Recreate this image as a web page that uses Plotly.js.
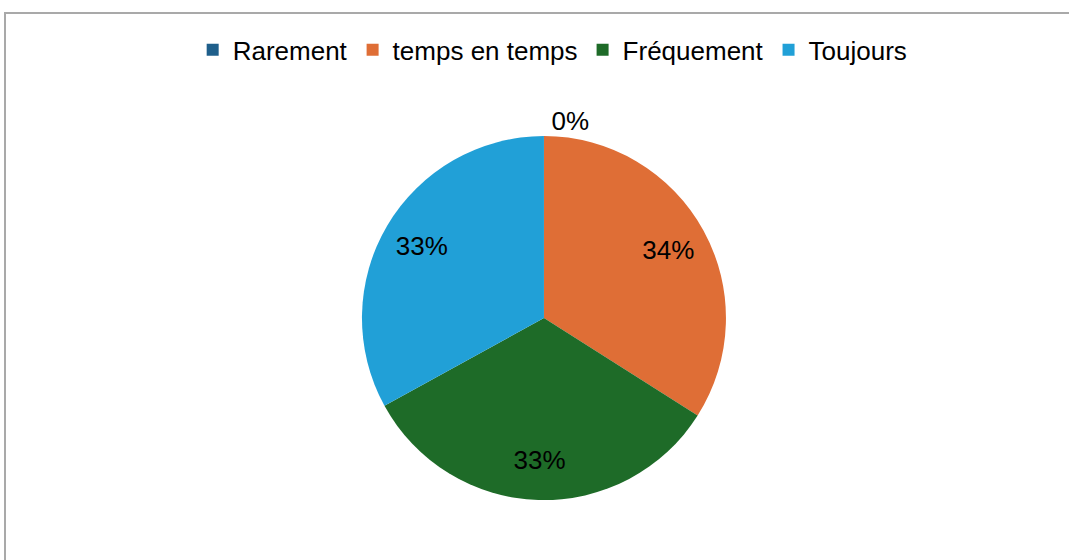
<!DOCTYPE html>
<html>
<head>
<meta charset="utf-8">
<script src="https://cdn.plot.ly/plotly-3.0.1.min.js"></script>
<style>
  html, body { margin: 0; padding: 0; background: #fff; }
  #wrap { position: relative; width: 1069px; height: 560px; overflow: hidden; }
  #chart { position: absolute; left: 0; top: 0; width: 1069px; height: 560px; }
  #frame { position: absolute; left: 4px; top: 12px; width: 1080px; height: 560px;
           border-top: 2px solid #a9a9a9; border-left: 2px solid #a9a9a9; pointer-events: none; }
</style>
</head>
<body>
<div id="wrap">
  <div id="chart"></div>
  <div id="frame"></div>
</div>
<script>
const categories = ["Rarement", "temps en temps", "Fréquement", "Toujours"];
const values = [0, 34, 33, 33];
const colors = ["#1F5F8B", "#DF6E36", "#1E6B28", "#21A0D7"];
const textPositions = ["outside", "inside", "inside", "inside"];

const font = "Liberation Sans, Arial, sans-serif";
const pieDomain = { x: [0.3386, 0.6791], y: [0.107, 0.757] };

// Coloured pie (no text)
const pieTrace = {
  type: "pie",
  labels: categories,
  values: values,
  sort: false,
  direction: "clockwise",
  rotation: 0,
  marker: { colors: colors, line: { width: 0 } },
  textinfo: "none",
  domain: pieDomain,
  hoverinfo: "label+percent",
  automargin: false
};

// Same data as a transparent ring, used only to place the percentage labels outward
const labelTrace = {
  type: "pie",
  labels: categories,
  values: values,
  sort: false,
  direction: "clockwise",
  rotation: 0,
  hole: 0.56,
  showlegend: false,
  marker: { colors: categories.map(() => "rgba(0,0,0,0)"), line: { width: 0 } },
  textinfo: "percent",
  texttemplate: "%{percent:.0%}",
  textposition: textPositions,
  insidetextorientation: "horizontal",
  textfont: { family: font, size: 26, color: "#000" },
  insidetextfont: { family: font, size: 26, color: "#000" },
  outsidetextfont: { family: font, size: 26, color: "#000" },
  domain: pieDomain,
  hoverinfo: "skip",
  automargin: false
};

const layout = {
  width: 1069,
  height: 560,
  margin: { l: 0, r: 0, t: 0, b: 0 },
  paper_bgcolor: "#ffffff",
  showlegend: true,
  legend: {
    orientation: "h",
    x: 0.517, xanchor: "center",
    y: 0.911, yanchor: "middle",
    font: { family: font, size: 26, color: "#000" },
    traceorder: "normal",
    itemclick: false
  }
};

Plotly.newPlot("chart", [pieTrace, labelTrace], layout, { displayModeBar: false, staticPlot: true });
</script>
</body>
</html>
